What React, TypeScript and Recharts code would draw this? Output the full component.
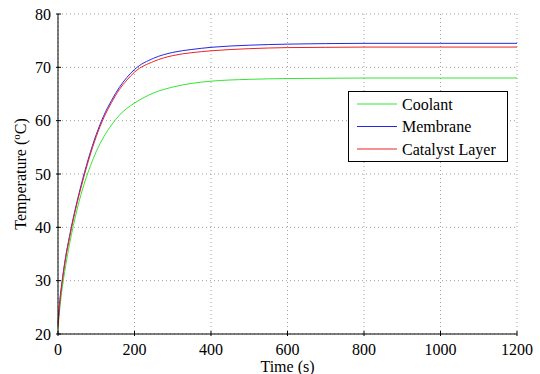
import { CartesianGrid, Line, LineChart, XAxis, YAxis } from "recharts";

const times = [0, 5, 10, 20, 30, 40, 50, 60, 70, 80, 100, 120, 140, 160, 180, 200, 250, 300, 350, 400, 500, 600, 700, 800, 1000, 1200];
const coolant = [21, 25, 28, 32.8, 36.8, 40.3, 43.4, 46.1, 48.5, 50.6, 54.2, 57, 59.2, 61, 62.3, 63.3, 65.2, 66.3, 67, 67.4, 67.75, 67.9, 67.95, 68, 68, 68];
const membrane = [22, 26.5, 29.5, 34.5, 38.3, 41.8, 44.9, 47.8, 50.5, 53, 57.4, 61, 63.8, 66.2, 68.1, 69.6, 71.7, 72.8, 73.35, 73.75, 74.15, 74.35, 74.45, 74.5, 74.5, 74.5];
const catalyst = [21.5, 26, 29.2, 34.2, 38, 41.5, 44.6, 47.4, 50.1, 52.6, 57, 60.6, 63.4, 65.8, 67.6, 69.1, 71.1, 72.2, 72.75, 73.1, 73.5, 73.7, 73.75, 73.8, 73.8, 73.8];

const xTicks = [0, 200, 400, 600, 800, 1000, 1200];
const yTicks = [20, 30, 40, 50, 60, 70, 80];

const data = times.map((t, i) => ({ t, coolant: coolant[i], membrane: membrane[i], catalyst: catalyst[i] }));

const FONT = "'Liberation Serif', 'Times New Roman', serif";

const BottomTick = ({ x, y, payload }: any) => (
  <g>
    <line x1={x} x2={x} y1={y} y2={y - 5} stroke="#000" />
    <text x={x} y={y + 19} textAnchor="middle" fontFamily={FONT} fontSize={16} fill="#000">
      {payload.value}
    </text>
  </g>
);

const TopTick = ({ x, y }: any) => <line x1={x} x2={x} y1={y} y2={y + 5} stroke="#000" />;

const LeftTick = ({ x, y, payload }: any) => (
  <g>
    <line x1={x} x2={x + 5} y1={y} y2={y} stroke="#000" />
    <text x={x - 5} y={y + 5.5} textAnchor="end" fontFamily={FONT} fontSize={16} fill="#000">
      {payload.value}
    </text>
  </g>
);

const RightTick = ({ x, y }: any) => <line x1={x} x2={x - 5} y1={y} y2={y} stroke="#000" />;

const legendItems = [
  { name: "Coolant", color: "#33e633" },
  { name: "Membrane", color: "#2626e6" },
  { name: "Catalyst Layer", color: "#ee2222" },
];

export default function App() {
  return (
    <div style={{ position: "absolute", left: 0, top: 0, background: "#fff" }}>
      <LineChart width={540} height={374} data={data} margin={{ top: 14, right: 23, bottom: 0, left: 0 }}>
        <CartesianGrid stroke="#a0a0a0" strokeDasharray="1 3" />
        <XAxis
          dataKey="t"
          type="number"
          domain={[0, 1200]}
          ticks={xTicks}
          height={40}
          tickSize={0}
          tickLine={false}
          tick={<BottomTick />}
          axisLine={{ stroke: "#000" }}
        />
        <XAxis
          xAxisId="top"
          orientation="top"
          dataKey="t"
          type="number"
          domain={[0, 1200]}
          ticks={xTicks}
          height={0}
          tickSize={0}
          tickLine={false}
          tick={<TopTick />}
          axisLine={{ stroke: "#000" }}
        />
        <YAxis
          type="number"
          domain={[20, 80]}
          ticks={yTicks}
          width={58}
          tickSize={0}
          tickLine={false}
          tick={<LeftTick />}
          axisLine={{ stroke: "#000" }}
        />
        <YAxis
          yAxisId="right"
          orientation="right"
          type="number"
          domain={[20, 80]}
          ticks={yTicks}
          width={0}
          tickSize={0}
          tickLine={false}
          tick={<RightTick />}
          axisLine={{ stroke: "#000" }}
        />
        <Line type="monotone" dataKey="coolant" stroke="#33e633" strokeWidth={1} dot={false} isAnimationActive={false} />
        <Line type="monotone" dataKey="membrane" stroke="#2626e6" strokeWidth={1} dot={false} isAnimationActive={false} />
        <Line type="monotone" dataKey="catalyst" stroke="#ee2222" strokeWidth={1} dot={false} isAnimationActive={false} />
        <g>
          <rect x={348.5} y={91.5} width={159} height={70} fill="#fff" stroke="#000" />
          {legendItems.map((it, i) => (
            <g key={it.name}>
              <line x1={357} x2={397} y1={104 + i * 22.5} y2={104 + i * 22.5} stroke={it.color} />
              <text x={402} y={109.5 + i * 22.5} fontFamily={FONT} fontSize={16} fill="#000">
                {it.name}
              </text>
            </g>
          ))}
        </g>
        <text x={287.5} y={372} textAnchor="middle" fontFamily={FONT} fontSize={16} fill="#000">
          Time (s)
        </text>
        <text
          x={0}
          y={0}
          transform="translate(26,174) rotate(-90)"
          textAnchor="middle"
          fontFamily={FONT}
          fontSize={16}
          fill="#000"
        >
          Temperature (<tspan dy={-6} fontSize={11}>o</tspan>
          <tspan dy={6}>C)</tspan>
        </text>
      </LineChart>
    </div>
  );
}
